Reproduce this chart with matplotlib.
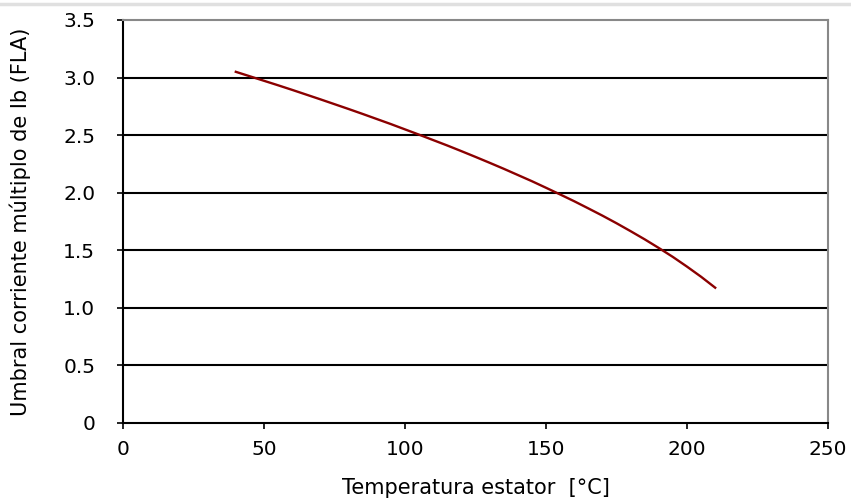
import matplotlib
matplotlib.use("Agg")
import matplotlib.pyplot as plt
from matplotlib.lines import Line2D

plt.rcParams['font.family'] = ['DejaVu Sans']

temperature = [40, 45, 50, 55, 60, 65, 70, 75, 80, 85, 90, 95, 100, 105, 110, 115, 120, 125,
               130, 135, 140, 145, 150, 155, 160, 165, 170, 175, 180, 185, 190, 195, 200, 205, 210]
current = [3.050, 3.011, 2.972, 2.933, 2.893, 2.852, 2.811, 2.769, 2.727, 2.684, 2.640, 2.596,
           2.550, 2.504, 2.457, 2.410, 2.361, 2.311, 2.260, 2.208, 2.154, 2.100, 2.043, 1.985,
           1.926, 1.864, 1.801, 1.735, 1.666, 1.595, 1.520, 1.442, 1.358, 1.270, 1.175]
xticks = [0, 50, 100, 150, 200, 250]
yticks = [0, 0.5, 1.0, 1.5, 2.0, 2.5, 3.0, 3.5]
ytick_labels = ["0", "0.5", "1.0", "1.5", "2.0", "2.5", "3.0", "3.5"]

fig = plt.figure(figsize=(8.51, 4.99), dpi=100)
ax = fig.add_axes([123/851, 1-423/499, (828-123)/851, (423-20)/499])

ax.set_xlim(0, 250)
ax.set_ylim(0, 3.5)
ax.set_xticks(xticks)
ax.set_xticklabels([str(v) for v in xticks])
ax.set_yticks(yticks)
ax.set_yticklabels(ytick_labels)

for y in yticks[1:-1]:
    ax.axhline(y, color="black", lw=1.5, zorder=1)

ax.plot(temperature, current, color="#8B0000", lw=1.7, zorder=3, solid_joinstyle="round")

for s in ["left", "bottom"]:
    ax.spines[s].set_color("black")
    ax.spines[s].set_linewidth(1.5)
for s in ["top", "right"]:
    ax.spines[s].set_color("#888888")
    ax.spines[s].set_linewidth(1.5)

ax.tick_params(axis="both", labelsize=14.5, length=4, width=1.2, color="black")
ax.tick_params(axis="y", pad=16)
ax.tick_params(axis="x", pad=8)

ax.set_xlabel("Temperatura estator  [°C]", fontsize=15)
ax.set_ylabel("Umbral corriente múltiplo de Ib (FLA)", fontsize=15)
ax.xaxis.set_label_coords(0.5, (423-488)/403)
ax.yaxis.set_label_coords((20-123)/705, 0.5)
ax.xaxis.label.set_va("center")
ax.yaxis.label.set_va("center")

fig.add_artist(Line2D([0, 1], [1-3.5/499, 1-3.5/499], color="#e0e0e0", lw=2.5, transform=fig.transFigure))

fig.savefig("out.png", dpi=100)
